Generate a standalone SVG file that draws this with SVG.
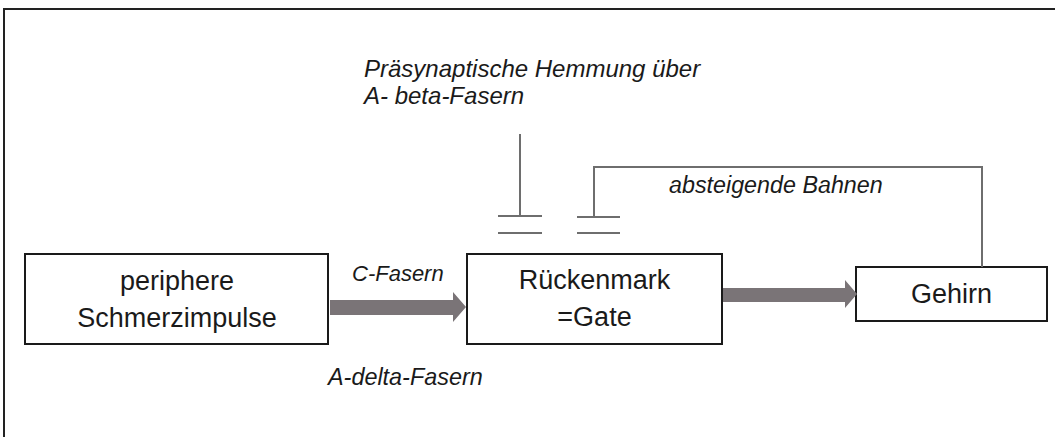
<svg xmlns="http://www.w3.org/2000/svg" width="1055" height="437" viewBox="0 0 1055 437">
<style>
.box{fill:#fff;stroke:#1a1a1a;stroke-width:2}
.t{font-family:"Liberation Sans",Arial,sans-serif;font-size:27px;fill:#1a1a1a;text-anchor:middle}
.it{font-family:"Liberation Sans",Arial,sans-serif;font-size:24px;font-style:italic;fill:#1a1a1a}
.ln{stroke:#6e6e6e;stroke-width:2;fill:none}
.ar{fill:#7a7477}
</style>
<rect width="1055" height="437" fill="#fff"/>
<path d="M4 440 V9 H1060" fill="none" stroke="#222" stroke-width="2"/>
<g id="node-peripher">
<rect class="box" x="25" y="254" width="303" height="90"/>
<text class="t" x="177" y="290">periphere</text>
<text class="t" x="177" y="327">Schmerzimpulse</text>
</g>
<g id="node-rueckenmark">
<rect class="box" x="467" y="254" width="255" height="90"/>
<text class="t" x="594.5" y="289">Rückenmark</text>
<text class="t" x="594.5" y="326">=Gate</text>
</g>
<g id="node-gehirn">
<rect class="box" x="856" y="267" width="191" height="54"/>
<text class="t" x="951.5" y="303">Gehirn</text>
</g>
<g id="labels">
<text class="it" x="364" y="77">Präsynaptische Hemmung über</text>
<text class="it" x="364" y="104">A- beta-Fasern</text>
<text class="it" x="669" y="193" style="font-size:23.3px">absteigende Bahnen</text>
<text class="it" x="352" y="281" style="font-size:22px">C-Fasern</text>
<text class="it" x="328" y="385" style="font-size:23.4px">A-delta-Fasern</text>
</g>
<g id="connectors">
<path class="ar" d="M330 300 H453 V292 L466 307 L453 322 V315 H330 Z"/>
<path class="ar" d="M723 288 H845 V280 L857 294 L845 308 V302 H723 Z"/>
<path class="ln" d="M520 134 V216 M498 216 H542 M498 233 H542"/>
<path class="ln" d="M982 267 V167 H594 V217 M577 217 H620 M577 233 H620"/>
</g>
</svg>
